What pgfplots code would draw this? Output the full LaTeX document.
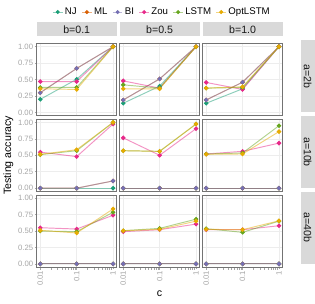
\documentclass[border=0pt]{standalone}
\usepackage{fontspec}
\setmainfont{Liberation Sans}
\usepackage{pgfplots}
\pgfplotsset{compat=1.18}
\usepgfplotslibrary{groupplots}
\definecolor{cNJ}{HTML}{1B9E77}
\definecolor{cML}{HTML}{D95F02}
\definecolor{cBI}{HTML}{7570B3}
\definecolor{cZou}{HTML}{E7298A}
\definecolor{cLSTM}{HTML}{66A61E}
\definecolor{cOpt}{HTML}{E6AB02}
\definecolor{stripgray}{HTML}{D9D9D9}
\pgfplotsset{
  innery/.style={ytick style={draw=none}},
  innerx/.style={xtick style={draw=none}},
}
\newcommand\rstrip[1]{\path (rel axis cs:1,0.5) ++(2pt,0) node[rotate=-90,anchor=south,fill=stripgray,minimum width=75pt,minimum height=15pt,inner sep=0pt,font=\fontsize{11}{13}\selectfont,text=black!90] {#1};}
\begin{document}
\begin{tikzpicture}
\begin{groupplot}[
  group style={group size=3 by 3, horizontal sep=3pt, vertical sep=3.5pt,
    xticklabels at=edge bottom, yticklabels at=edge left},
  width=83pt, height=75pt, scale only axis, clip=false,
  xmode=log, xmin=0.0079433, xmax=1.2589,
  ymin=-0.05, ymax=1.05,
  xtick={0.01,0.1,1}, xticklabels={0.01,0.1,1},
  ytick={0,0.25,0.5,0.75,1}, yticklabels={0.00,0.25,0.50,0.75,1.00},
  minor xtick={}, 
  tick pos=left, tick align=outside, major tick length=2pt,
  tick style={black!35, line width=0.5pt},
  xticklabel style={rotate=90, anchor=east, font=\fontsize{8}{9}\selectfont, text=black!35, inner sep=1.5pt},
  yticklabel style={font=\fontsize{8}{9}\selectfont, text=black!35, inner sep=1.5pt},
  grid=major, major grid style={black!7, line width=0.5pt},
  axis line style={black!55, line width=0.6pt},
  title style={at={(0.5,1)}, anchor=south, yshift=1pt, fill=stripgray, minimum width=83pt, minimum height=15pt, inner sep=0pt, font=\fontsize{11}{13}\selectfont, text=black!90},
  every axis plot/.append style={line width=1pt, draw opacity=0.5, mark=*, mark size=1.8pt, mark options={draw opacity=1, fill opacity=1, solid}},
  legend image code/.code={\draw[mark repeat=2,mark phase=2,mark size=1.5pt] plot coordinates {(0pt,0pt)(5pt,0pt)(10pt,0pt)};},
  label style={font=\fontsize{11}{13}\selectfont},
]
% ---------- row 1: a=2b ----------
\nextgroupplot[title={b=0.1}, innerx]
\path (rel axis cs:0,1) ++(-38pt,45pt) rectangle ++(315pt,-315pt);
\addplot[cNJ] coordinates {(0.01,0.20) (0.1,0.505) (1,1)};
\addplot[cML] coordinates {(0.01,0.30) (0.1,0.67) (1,1)};
\addplot[cBI] coordinates {(0.01,0.30) (0.1,0.67) (1,1)};
\addplot[cZou] coordinates {(0.01,0.47) (0.1,0.47) (1,1)};
\addplot[cLSTM] coordinates {(0.01,0.38) (0.1,0.38) (1,1)};
\addplot[cOpt] coordinates {(0.01,0.36) (0.1,0.35) (1,1)};
\nextgroupplot[title={b=0.5}, innerx, innery,
  legend columns=6,
  legend style={at={(0.5,1.433)}, anchor=center, xshift=2.5pt, draw=none, fill=none,
    font=\fontsize{10}{12}\selectfont, inner sep=0pt,
    /tikz/every even column/.append style={column sep=3pt},
    nodes={inner sep=2pt}}]
\addplot[cNJ] coordinates {(0.01,0.14) (0.1,0.40) (1,1)};
\addplot[cML] coordinates {(0.01,0.19) (0.1,0.51) (1,1)};
\addplot[cBI] coordinates {(0.01,0.19) (0.1,0.51) (1,1)};
\addplot[cZou] coordinates {(0.01,0.48) (0.1,0.37) (1,1)};
\addplot[cLSTM] coordinates {(0.01,0.42) (0.1,0.37) (1,1)};
\addplot[cOpt] coordinates {(0.01,0.36) (0.1,0.36) (1,1)};
\legend{NJ,ML,BI,Zou,LSTM,OptLSTM}
\nextgroupplot[title={b=1.0}, innerx, innery]
\addplot[cNJ] coordinates {(0.01,0.14) (0.1,0.36) (1,1)};
\addplot[cML] coordinates {(0.01,0.19) (0.1,0.46) (1,1)};
\addplot[cBI] coordinates {(0.01,0.19) (0.1,0.46) (1,1)};
\addplot[cZou] coordinates {(0.01,0.456) (0.1,0.35) (1,1)};
\addplot[cLSTM] coordinates {(0.01,0.37) (0.1,0.38) (1,1)};
\addplot[cOpt] coordinates {(0.01,0.37) (0.1,0.39) (1,1)};
\rstrip{a=2b}
% ---------- row 2: a=10b ----------
\nextgroupplot[innerx, ylabel={Testing accuracy}]
\addplot[cNJ] coordinates {(0.01,0) (0.1,0) (1,0)};
\addplot[cML] coordinates {(0.01,0) (0.1,0) (1,0.11)};
\addplot[cBI] coordinates {(0.01,0) (0.1,0) (1,0.11)};
\addplot[cZou] coordinates {(0.01,0.548) (0.1,0.48) (1,0.975)};
\addplot[cLSTM] coordinates {(0.01,0.51) (0.1,0.57) (1,1.0)};
\addplot[cOpt] coordinates {(0.01,0.515) (0.1,0.585) (1,1.0)};
\nextgroupplot[innerx, innery]
\addplot[cNJ] coordinates {(0.01,0) (0.1,0) (1,0)};
\addplot[cML] coordinates {(0.01,0) (0.1,0) (1,0)};
\addplot[cBI] coordinates {(0.01,0) (0.1,0) (1,0)};
\addplot[cZou] coordinates {(0.01,0.765) (0.1,0.50) (1,0.905)};
\addplot[cLSTM] coordinates {(0.01,0.57) (0.1,0.56) (1,0.975)};
\addplot[cOpt] coordinates {(0.01,0.57) (0.1,0.56) (1,0.975)};
\nextgroupplot[innerx, innery]
\addplot[cNJ] coordinates {(0.01,0) (0.1,0) (1,0)};
\addplot[cML] coordinates {(0.01,0) (0.1,0) (1,0)};
\addplot[cBI] coordinates {(0.01,0) (0.1,0) (1,0)};
\addplot[cZou] coordinates {(0.01,0.52) (0.1,0.56) (1,0.685)};
\addplot[cLSTM] coordinates {(0.01,0.52) (0.1,0.535) (1,0.95)};
\addplot[cOpt] coordinates {(0.01,0.515) (0.1,0.52) (1,0.86)};
\rstrip{a=10b}
% ---------- row 3: a=40b ----------
\nextgroupplot[]
\addplot[cNJ] coordinates {(0.01,0) (0.1,0) (1,0)};
\addplot[cML] coordinates {(0.01,0) (0.1,0) (1,0)};
\addplot[cBI] coordinates {(0.01,0) (0.1,0) (1,0)};
\addplot[cZou] coordinates {(0.01,0.55) (0.1,0.53) (1,0.74)};
\addplot[cLSTM] coordinates {(0.01,0.50) (0.1,0.49) (1,0.785)};
\addplot[cOpt] coordinates {(0.01,0.51) (0.1,0.47) (1,0.835)};
\nextgroupplot[innery, xlabel={c}]
\addplot[cNJ] coordinates {(0.01,0) (0.1,0) (1,0)};
\addplot[cML] coordinates {(0.01,0) (0.1,0) (1,0)};
\addplot[cBI] coordinates {(0.01,0) (0.1,0) (1,0)};
\addplot[cZou] coordinates {(0.01,0.49) (0.1,0.52) (1,0.605)};
\addplot[cLSTM] coordinates {(0.01,0.505) (0.1,0.54) (1,0.68)};
\addplot[cOpt] coordinates {(0.01,0.505) (0.1,0.525) (1,0.65)};
\nextgroupplot[innery]
\addplot[cNJ] coordinates {(0.01,0) (0.1,0) (1,0)};
\addplot[cML] coordinates {(0.01,0) (0.1,0) (1,0)};
\addplot[cBI] coordinates {(0.01,0) (0.1,0) (1,0)};
\addplot[cZou] coordinates {(0.01,0.52) (0.1,0.52) (1,0.58)};
\addplot[cLSTM] coordinates {(0.01,0.535) (0.1,0.48) (1,0.65)};
\addplot[cOpt] coordinates {(0.01,0.525) (0.1,0.52) (1,0.655)};
\rstrip{a=40b}
\end{groupplot}
\end{tikzpicture}
\end{document}
